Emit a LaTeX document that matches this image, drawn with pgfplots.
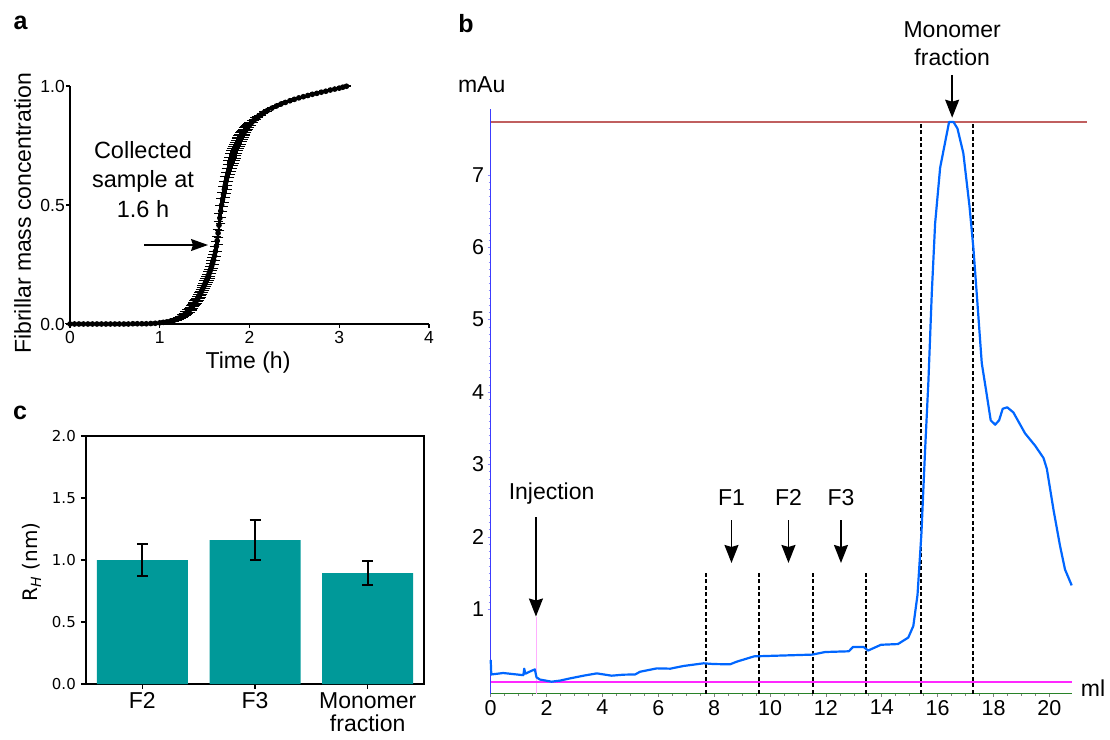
\documentclass[border=0pt]{standalone}
\usepackage{pgfplots}
\pgfplotsset{compat=1.18}
\usepackage{pgfplotstable}
\usepackage{fontspec}
\setmainfont{Liberation Sans}
\newfontfamily\dejavu{DejaVu Sans}
\usetikzlibrary{arrows.meta}
\definecolor{barteal}{RGB}{0,153,153}
\definecolor{curveblue}{RGB}{0,102,255}
\definecolor{pinkline}{RGB}{255,40,255}
\definecolor{redline}{RGB}{192,95,95}
\definecolor{axgreen}{RGB}{40,130,40}
\definecolor{axblue}{RGB}{60,60,255}
\definecolor{injpink}{RGB}{255,175,255}

\pgfplotstableread{
x y e
0.00 0.000 0.000
0.05 0.000 0.000
0.10 0.000 0.000
0.15 0.000 0.000
0.20 0.000 0.000
0.25 0.000 0.000
0.30 0.000 0.000
0.35 0.000 0.000
0.40 0.000 0.000
0.45 0.000 0.000
0.50 0.000 0.000
0.55 0.000 0.000
0.60 0.000 0.000
0.65 0.000 0.000
0.70 0.001 0.000
0.75 0.001 0.000
0.80 0.001 0.001
0.85 0.001 0.001
0.90 0.002 0.001
0.95 0.003 0.001
1.00 0.005 0.002
1.04 0.007 0.003
1.08 0.009 0.003
1.12 0.012 0.004
1.16 0.016 0.005
1.20 0.022 0.006
1.22 0.026 0.007
1.24 0.030 0.008
1.26 0.035 0.009
1.28 0.041 0.010
1.30 0.048 0.011
1.31 0.052 0.011
1.32 0.055 0.012
1.33 0.059 0.012
1.34 0.063 0.013
1.35 0.068 0.013
1.36 0.072 0.014
1.37 0.077 0.014
1.38 0.082 0.015
1.39 0.088 0.016
1.40 0.093 0.016
1.41 0.099 0.017
1.42 0.105 0.018
1.43 0.112 0.019
1.44 0.119 0.019
1.45 0.126 0.020
1.46 0.133 0.021
1.47 0.141 0.022
1.48 0.149 0.023
1.49 0.157 0.024
1.50 0.165 0.025
1.51 0.174 0.026
1.52 0.183 0.027
1.53 0.192 0.028
1.54 0.202 0.029
1.55 0.212 0.030
1.56 0.222 0.031
1.57 0.233 0.032
1.58 0.245 0.033
1.59 0.257 0.034
1.60 0.270 0.036
1.61 0.287 0.038
1.62 0.305 0.040
1.63 0.326 0.042
1.64 0.350 0.045
1.65 0.382 0.048
1.66 0.415 0.050
1.67 0.445 0.051
1.68 0.475 0.052
1.69 0.500 0.053
1.70 0.525 0.053
1.71 0.545 0.053
1.72 0.565 0.053
1.73 0.583 0.053
1.74 0.600 0.052
1.75 0.618 0.052
1.76 0.635 0.051
1.77 0.650 0.051
1.78 0.665 0.050
1.79 0.678 0.049
1.80 0.690 0.048
1.81 0.700 0.047
1.82 0.710 0.045
1.83 0.720 0.044
1.84 0.730 0.042
1.85 0.738 0.041
1.86 0.746 0.039
1.87 0.755 0.037
1.88 0.763 0.035
1.89 0.771 0.033
1.90 0.778 0.031
1.91 0.785 0.029
1.92 0.792 0.027
1.93 0.799 0.025
1.94 0.805 0.023
1.95 0.811 0.021
1.96 0.816 0.019
1.97 0.822 0.017
1.98 0.827 0.015
1.99 0.832 0.013
2.00 0.837 0.011
2.02 0.845 0.009
2.04 0.853 0.007
2.06 0.860 0.006
2.08 0.866 0.005
2.10 0.872 0.005
2.13 0.880 0.004
2.16 0.888 0.003
2.20 0.897 0.003
2.25 0.907 0.002
2.30 0.916 0.002
2.35 0.924 0.002
2.40 0.931 0.002
2.45 0.938 0.002
2.50 0.944 0.002
2.55 0.950 0.002
2.60 0.955 0.002
2.65 0.960 0.002
2.70 0.965 0.002
2.75 0.969 0.002
2.80 0.974 0.002
2.85 0.978 0.002
2.90 0.983 0.002
2.95 0.987 0.002
3.00 0.991 0.002
3.04 0.995 0.002
3.08 0.999 0.002
}\kinetics

\pgfplotstableread{
x y
0.00 0.30
0.02 0.10
0.45 0.12
1.17 0.09
1.20 0.18
1.24 0.11
1.40 0.14
1.58 0.17
1.64 0.06
1.76 0.03
2.18 0.00
2.48 0.015
2.84 0.046
3.32 0.083
3.80 0.115
4.33 0.083
4.75 0.097
5.17 0.10
5.35 0.138
5.95 0.184
6.43 0.18
6.90 0.217
7.62 0.254
7.98 0.244
8.57 0.24
8.81 0.277
9.43 0.35
11.51 0.374
11.97 0.41
12.82 0.42
12.97 0.48
13.35 0.48
13.51 0.43
13.97 0.51
14.58 0.52
14.95 0.61
15.13 0.77
15.28 1.20
15.42 2.05
15.55 3.19
15.67 4.15
15.79 5.36
15.91 6.33
16.09 7.10
16.41 7.73
16.57 7.73
16.71 7.64
16.92 7.30
17.14 6.57
17.28 5.99
17.40 5.36
17.58 4.40
17.74 4.01
17.90 3.61
18.06 3.55
18.20 3.61
18.33 3.77
18.49 3.79
18.71 3.72
19.13 3.43
19.49 3.26
19.79 3.09
19.91 2.94
20.15 2.37
20.38 1.88
20.56 1.55
20.80 1.33
}\chrom

\begin{document}
\begin{tikzpicture}
\path[use as bounding box] (0pt,0pt) rectangle (1110pt,739pt);

% ---------------- panel a ----------------
\begin{axis}[
  at={(70pt,415pt)}, anchor=south west,
  width=359pt, height=238pt, scale only axis,
  xmin=0, xmax=4, ymin=0, ymax=1,
  axis lines=left, axis line style={-, line width=1.2pt},
  xtick={0,1,2,3,4}, ytick={0,0.5,1},
  tick align=outside, major tick length=4pt,
  tick style={line width=1.2pt, black},
  /pgf/number format/assume math mode=true,
  yticklabel style={/pgf/number format/fixed, /pgf/number format/fixed zerofill, /pgf/number format/precision=1, font=\fontsize{17.5}{20}\selectfont, inner xsep=1pt},
  xticklabel style={font=\fontsize{17.5}{20}\selectfont},
  xlabel={Time (h)}, ylabel={Fibrillar mass concentration},
  label style={font=\fontsize{23}{27}\selectfont},
  xlabel style={at={(axis description cs:0.496,-0.164)}, anchor=center},
  ylabel style={at={(axis description cs:-0.132,0.466)}, anchor=center},
  clip=false,
]
\addplot[black, line width=1.4pt, mark=*, mark size=2.1pt,
  error bars/.cd, y dir=both, y explicit,
  error bar style={line width=1pt},
  error mark options={rotate=90, mark size=4.5pt, line width=1pt}]
  table[x=x, y=y, y error=e] {\kinetics};
\end{axis}
\node[align=center, font=\fontsize{23.5}{29.5}\selectfont] at (143pt,559.5pt) {Collected\\sample at\\1.6 h};
\draw[line width=1.3pt, -{Stealth[length=17pt,width=12pt,inset=2pt]}] (144pt,494pt) -- (208pt,494pt);

% ---------------- panel c ----------------
\begin{axis}[
  at={(86pt,55pt)}, anchor=south west,
  width=338pt, height=248pt, scale only axis,
  xmin=-0.5, xmax=2.5, ymin=0, ymax=2,
  ybar, bar width=91pt,
  xtick={0,1,2}, xticklabels={F2,F3,{Monomer\\fraction}},
  ytick={0,0.5,1,1.5,2},
  xtick pos=left, ytick pos=left,
  tick align=outside, major tick length=5pt,
  tick style={black, line width=1.1pt},
  axis line style={line width=1.1pt},
  /pgf/number format/assume math mode=true,
  yticklabel style={/pgf/number format/fixed, /pgf/number format/fixed zerofill, /pgf/number format/precision=1, font=\dejavu\fontsize{15}{18}\selectfont, inner xsep=5pt},
  xticklabel style={font=\fontsize{23}{23.5}\selectfont, align=center},
  ylabel={R\textsubscript{\textit{H}} (nm)},
  ylabel style={font=\dejavu\fontsize{20}{24}\selectfont, at={(axis description cs:-0.160,0.492)}, anchor=center},
  clip=false,
]
\addplot[fill=barteal, draw=none,
  error bars/.cd, y dir=both, y explicit,
  error bar style={line width=2pt, black},
  error mark options={rotate=90, mark size=5.5pt, line width=2pt, black}]
  coordinates {(0,1.0) +- (0,0.13) (1,1.16) +- (0,0.16) (2,0.895) +- (0,0.1)};
\end{axis}

% ---------------- panel b ----------------
\begin{axis}[
  at={(490.7pt,45.5pt)}, anchor=south west,
  width=581pt, height=584.2pt, scale only axis,
  xmin=0, xmax=20.8, ymin=-0.163, ymax=7.906,
  axis x line*=bottom, axis y line*=left,
  axis line style={-},
  x axis line style={axgreen, line width=1.5pt},
  y axis line style={axblue, line width=1pt},
  xtick={0,2,...,20}, minor x tick num=3,
  ytick={1,2,...,7}, minor y tick num=9,
  tick align=outside, major tick length=3pt, minor tick length=2pt,
  xtick style={gray, line width=0.6pt},
  ytick style={axblue!60, line width=0.5pt},
  /pgf/number format/assume math mode=true,
  ticklabel style={font=\fontsize{21.5}{24}\selectfont},
  xlabel={ml}, ylabel={mAu},
  label style={font=\fontsize{23}{27}\selectfont},
  xlabel style={at={(axis description cs:1.0367,0.0094)}, anchor=center},
  ylabel style={at={(axis description cs:-0.0155,1.0416)}, anchor=center, rotate=-90},
  clip=false,
]
\addplot[injpink, line width=0.8pt] coordinates {(1.62,-0.163) (1.62,0.9)};
\addplot[pinkline, line width=2.4pt] coordinates {(0,0) (20.8,0)};
\addplot[redline, line width=1.1pt] coordinates {(0,7.73) (21.35,7.73)};
\addplot[black, line width=1.5pt, dash pattern=on 4pt off 2.5pt] coordinates {(7.71,-0.163) (7.71,1.52)};
\addplot[black, line width=1.5pt, dash pattern=on 4pt off 2.5pt] coordinates {(9.60,-0.163) (9.60,1.52)};
\addplot[black, line width=1.5pt, dash pattern=on 4pt off 2.5pt] coordinates {(11.54,-0.163) (11.54,1.52)};
\addplot[black, line width=1.5pt, dash pattern=on 4pt off 2.5pt] coordinates {(13.44,-0.163) (13.44,1.52)};
\addplot[black, line width=1.5pt, dash pattern=on 4pt off 2.5pt] coordinates {(15.40,-0.163) (15.40,7.73)};
\addplot[black, line width=1.5pt, dash pattern=on 4pt off 2.5pt] coordinates {(17.268,-0.163) (17.268,7.73)};
\addplot[curveblue, line width=2.2pt, line join=round] table[x=x, y=y] {\chrom};

\node[font=\fontsize{23}{27}\selectfont] at (axis cs:2.18,2.6) {Injection};
\draw[line width=1.6pt, -{Stealth[length=18pt,width=14pt,inset=2pt]}] (axis cs:1.62,2.27) -- (axis cs:1.62,0.9);
\node[font=\fontsize{23}{27}\selectfont] at (axis cs:8.62,2.54) {F1};
\draw[line width=1.6pt, -{Stealth[length=18pt,width=14pt,inset=2pt]}] (axis cs:8.62,2.23) -- (axis cs:8.62,1.64);
\node[font=\fontsize{23}{27}\selectfont] at (axis cs:10.66,2.54) {F2};
\draw[line width=1.6pt, -{Stealth[length=18pt,width=14pt,inset=2pt]}] (axis cs:10.66,2.23) -- (axis cs:10.66,1.64);
\node[font=\fontsize{23}{27}\selectfont] at (axis cs:12.54,2.54) {F3};
\draw[line width=1.6pt, -{Stealth[length=18pt,width=14pt,inset=2pt]}] (axis cs:12.54,2.23) -- (axis cs:12.54,1.64);
\node[align=center, font=\fontsize{23}{28}\selectfont] at (axis cs:16.52,8.81) {Monomer\\fraction};
\draw[line width=1.6pt, -{Stealth[length=18pt,width=14pt,inset=2pt]}] (axis cs:16.52,8.38) -- (axis cs:16.52,7.79);
\end{axis}

% panel letters
\node[font=\bfseries\fontsize{25}{30}\selectfont] at (20.5pt,716pt) {a};
\node[font=\bfseries\fontsize{25}{30}\selectfont] at (466pt,715.5pt) {b};
\node[font=\bfseries\fontsize{25}{30}\selectfont] at (20pt,326pt) {c};
\end{tikzpicture}
\end{document}
